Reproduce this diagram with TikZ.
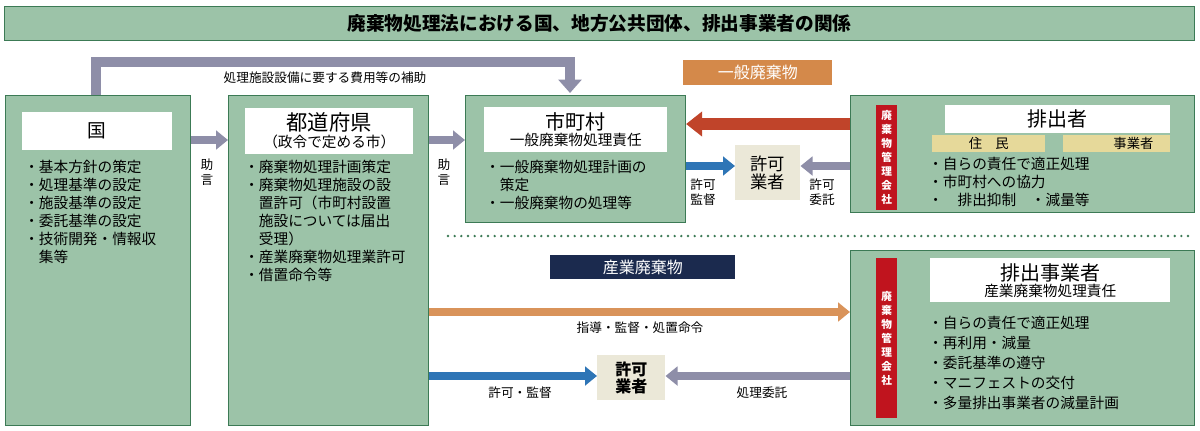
\documentclass[tikz,border=0pt]{standalone}
\usepackage{fontspec}
\setmainfont{Noto Sans CJK JP}
\usetikzlibrary{arrows.meta}
\definecolor{gfill}{HTML}{9CC3A8}
\definecolor{gline}{HTML}{3C7A55}
\definecolor{garrow}{HTML}{8E8EA8}
\definecolor{oarrow}{HTML}{D9935A}
\definecolor{olab}{HTML}{D4894A}
\definecolor{rarrow}{HTML}{C0442A}
\definecolor{barrow}{HTML}{2E75B6}
\definecolor{navy}{HTML}{1B2A4E}
\definecolor{ylw}{HTML}{E6D99A}
\definecolor{beige}{HTML}{EBE8D8}
\definecolor{strip}{HTML}{C0141E}
\begin{document}
\begin{tikzpicture}[x=0.75pt,y=-0.75pt,
 gbox/.style={draw=gline,line width=0.8pt,fill=gfill},
 wbox/.style={fill=white,draw=none},
 fat/.style={line width=6.5pt,-{Triangle[length=9pt,width=14pt]}},
 bul/.style={anchor=north west,align=left,font=\fontsize{11}{13.5}\selectfont,inner sep=0pt},
 lab/.style={font=\fontsize{9.5}{11}\selectfont,inner sep=1pt,align=center},
 vstrip/.style={fill=strip,draw=none}]
\useasboundingbox (0,0) rectangle (1200,430);
% title
\node[gbox,minimum width=1190*0.75pt,minimum height=34*0.75pt,anchor=north west,font=\bfseries\fontsize{14}{16}\selectfont] (title) at (4,6) {廃棄物処理法における国、地方公共団体、排出事業者の関係};
% boxes
\node[gbox,anchor=north west,minimum width=185*0.75pt,minimum height=330*0.75pt] (kuni) at (5,95) {};
\node[wbox,anchor=north west,minimum width=150*0.75pt,minimum height=38*0.75pt,font=\fontsize{14}{15}\selectfont] (kunit) at (22,112) {国};
\node[bul] (kunib) at (24,160) {・基本方針の策定\\・処理基準の設定\\・施設基準の設定\\・委託基準の設定\\・技術開発・情報収\\\hspace*{1em}集等};
\node[gbox,anchor=north west,minimum width=200*0.75pt,minimum height=330*0.75pt] (ken) at (228,95) {};
\node[wbox,anchor=north west,minimum width=168*0.75pt,minimum height=44*0.75pt,align=center] (kent) at (245,108) {{\fontsize{16}{17}\selectfont 都道府県}\\[1pt]{\fontsize{11}{12}\selectfont（政令で定める市）}};
\node[bul] (kenb) at (244,160) {・廃棄物処理計画策定\\・廃棄物処理施設の設\\\hspace*{1em}置許可（市町村設置\\\hspace*{1em}施設については届出\\\hspace*{1em}受理）\\・産業廃棄物処理業許可\\・借置命令等};
\node[gbox,anchor=north west,minimum width=220*0.75pt,minimum height=127*0.75pt] (shi) at (465,95) {};
\node[wbox,anchor=north west,minimum width=183*0.75pt,minimum height=45*0.75pt,align=center] (shit) at (484,107) {{\fontsize{15}{16}\selectfont 市町村}\\[0pt]{\fontsize{11}{12}\selectfont 一般廃棄物処理責任}};
\node[bul] (shib) at (485,160) {・一般廃棄物処理計画の\\\hspace*{1em}策定\\・一般廃棄物の処理等};
% haishutsusha
\node[gbox,anchor=north west,minimum width=344*0.75pt,minimum height=117*0.75pt] (hai) at (850,95) {};
\node[vstrip,anchor=north west,minimum width=21*0.75pt,minimum height=105*0.75pt] (s1) at (876,105) {};
\node[text=white,font=\bfseries\fontsize{8}{10.5}\selectfont,align=center,inner sep=0pt] at (s1.center) {廃\\棄\\物\\管\\理\\会\\社};
\node[wbox,anchor=north west,minimum width=225*0.75pt,minimum height=25*0.75pt,font=\fontsize{15}{16}\selectfont] (hait) at (945,105) {排出者};
\node[fill=ylw,anchor=north west,minimum width=113*0.75pt,minimum height=17*0.75pt,inner sep=0pt,font=\fontsize{10}{11}\selectfont] (jumin) at (932,135) {住\quad 民};
\node[fill=ylw,anchor=north west,minimum width=107*0.75pt,minimum height=17*0.75pt,inner sep=0pt,font=\fontsize{10}{11}\selectfont] (jig) at (1063,135) {\hspace*{2.5em}事業者};
\node[bul] (haib) at (928,157) {・自らの責任で適正処理\\・市町村への協力\\・\quad 排出抑制\quad ・減量等};
% jigyosha
\node[gbox,anchor=north west,minimum width=344*0.75pt,minimum height=175*0.75pt] (jgs) at (850,250) {};
\node[vstrip,anchor=north west,minimum width=21*0.75pt,minimum height=160*0.75pt] (s2) at (876,258) {};
\node[text=white,font=\bfseries\fontsize{8}{10.5}\selectfont,align=center,inner sep=0pt] at (s2.center) {廃\\棄\\物\\管\\理\\会\\社};
\node[wbox,anchor=north west,minimum width=240*0.75pt,minimum height=44*0.75pt,align=center] (jgst) at (930,258) {{\fontsize{15}{16}\selectfont 排出事業者}\\[0pt]{\fontsize{11}{12}\selectfont 産業廃棄物処理責任}};
\node[bul,font=\fontsize{11}{15}\selectfont] (jgsb) at (928,316) {・自らの責任で適正処理\\・再利用・減量\\・委託基準の遵守\\・マニフェストの交付\\・多量排出事業者の減量計画};
% licensed
\node[fill=beige,anchor=north west,minimum width=65*0.75pt,minimum height=55*0.75pt,align=center,font=\fontsize{13}{14}\selectfont] (kyo1) at (735,145) {許可\\業者};
\node[fill=beige,anchor=north west,minimum width=68*0.75pt,minimum height=45*0.75pt,align=center,font=\bfseries\fontsize{12}{13}\selectfont] (kyo2) at (597,355) {許可\\業者};
% category labels
\node[fill=olab,anchor=north west,minimum width=149*0.75pt,minimum height=25*0.75pt,text=white,font=\fontsize{12}{13}\selectfont] (ippan) at (683,60) {一般廃棄物};
\node[fill=navy,anchor=north west,minimum width=185*0.75pt,minimum height=23*0.75pt,text=white,font=\fontsize{12}{13}\selectfont] (sangyo) at (550,255) {産業廃棄物};
\draw[gline,line width=2pt,dash pattern=on 0pt off 5pt,line cap=round] (448,236) -- (1194,236);
% arrows
\coordinate (k1) at (96,95);
\coordinate (k2) at (570,93);
\draw[garrow,line width=8pt,-{Triangle[length=10pt,width=17pt]}] (k1) -- (96,62) -- (570,62) -- (k2);
\node[lab] at (325,78) {処理施設設備に要する費用等の補助};
\draw[garrow,fat] (kuni.east|-0,140) -- (ken.west|-0,140);
\node[lab,align=center] at (207,172) {助\\言};
\draw[garrow,fat] (ken.east|-0,140) -- (shi.west|-0,140);
\node[lab,align=center] at (444,172) {助\\言};
\draw[rarrow,line width=9pt,-{Triangle[length=12pt,width=18pt]}] (hai.west|-0,124) -- (shi.east|-0,124);
\draw[barrow,fat] (shi.east|-0,166) -- (kyo1.west|-0,166);
\node[lab] at (703,192) {許可\\監督};
\draw[garrow,fat] (hai.west|-0,166) -- (kyo1.east|-0,166);
\node[lab] at (822,192) {許可\\委託};
\draw[oarrow,fat] (ken.east|-0,312) -- (jgs.west|-0,312);
\node[lab] at (640,328) {指導・監督・処置命令};
\draw[barrow,fat] (ken.east|-0,376) -- (kyo2.west|-0,376);
\node[lab] at (520,393) {許可・監督};
\draw[garrow,fat] (jgs.west|-0,376) -- (kyo2.east|-0,376);
\node[lab] at (762,393) {処理委託};
\end{tikzpicture}
\end{document}
